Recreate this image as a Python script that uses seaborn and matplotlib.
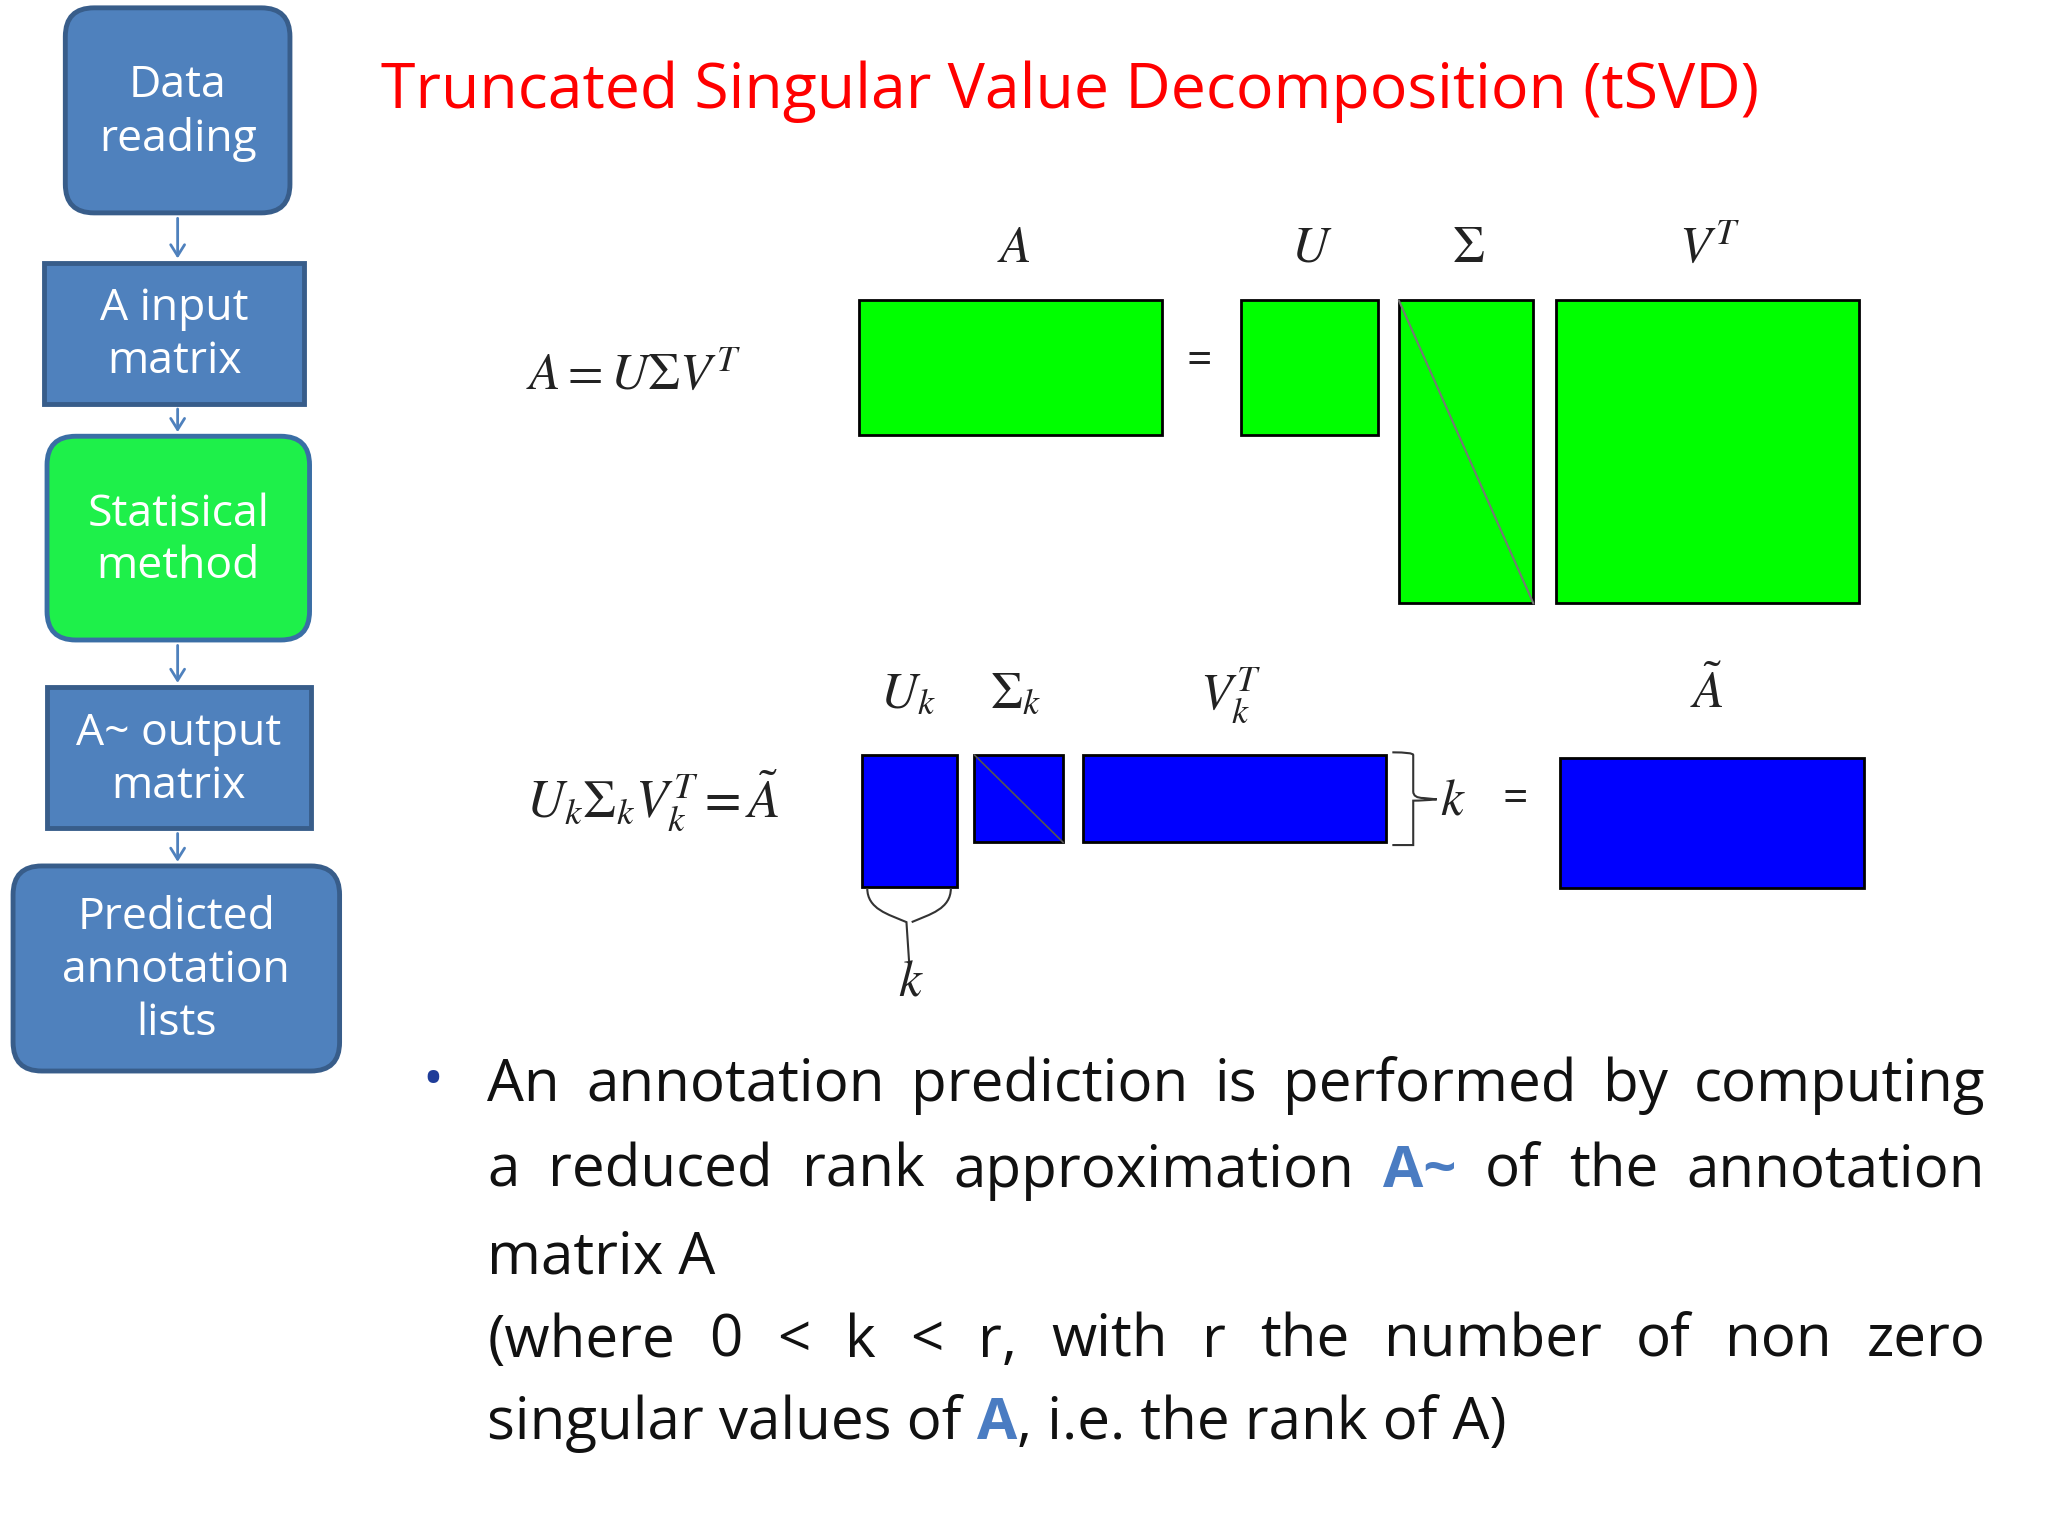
import matplotlib
matplotlib.use("Agg")
import matplotlib.pyplot as plt
import seaborn as sns
from matplotlib.patches import FancyBboxPatch, Rectangle, FancyArrowPatch
from matplotlib.path import Path
from matplotlib.patches import PathPatch

sns.set_theme(style="white")
plt.rcParams['font.family'] = ['Open Sans', 'DejaVu Sans']
plt.rcParams['mathtext.fontset'] = 'stix'

# ---- content ----
title = "Truncated Singular Value Decomposition (tSVD)"
flow_labels = ["Data\nreading", "A input\nmatrix", "Statisical\nmethod", "A~ output\nmatrix", "Predicted\nannotation\nlists"]
flow_rounded = [True, False, True, False, True]
flow_green = [False, False, True, False, False]
flow_boxes = [(50, 6, 172, 157), (34, 201, 199, 108), (36, 334, 201, 156), (36, 526, 202, 108), (10, 663, 250, 157)]
top_boxes = [(658, 230, 232, 103), (950, 230, 105, 103), (1071, 230, 103, 232), (1191, 230, 232, 232)]
top_labels = [r"$A$", r"$U$", r"$\Sigma$", r"$V^T$"]
bot_boxes = [(660, 578, 73, 101), (746, 578, 68, 67), (829, 578, 232, 67), (1194, 580, 233, 100)]
bot_labels = [r"$U_k$", r"$\Sigma_k$", r"$V_k^T$", r"$\tilde{A}$"]
bullet_lines = [
    [("An", None), ("annotation", None), ("prediction", None), ("is", None), ("performed", None), ("by", None), ("computing", None)],
    [("a", None), ("reduced", None), ("rank", None), ("approximation", None), ("A~", "blue"), ("of", None), ("the", None), ("annotation", None)],
    [("matrix A", None)],
    [("(where", None), ("0", None), ("<", None), ("k", None), ("<", None), ("r,", None), ("with", None), ("r", None), ("the", None), ("number", None), ("of", None), ("non", None), ("zero", None)],
    [("singular values of ", None), ("A", "blue"), (", i.e. the rank of A)", None)],
]
justify = [True, True, False, True, False]

W, H = 1568, 1176
fig = plt.figure(figsize=(20.48, 15.36), dpi=100)
ax = fig.add_axes([0, 0, 1, 1])
ax.set_xlim(0, W); ax.set_ylim(H, 0); ax.axis("off")

BLUE_FILL, BLUE_EDGE = "#4F81BD", "#385D8A"
GREEN_FILL = "#1EF04A"

for lab, (x, y, w, h), r, g in zip(flow_labels, flow_boxes, flow_rounded, flow_green):
    fc = GREEN_FILL if g else BLUE_FILL
    ec = "#3A6EA5" if g else BLUE_EDGE
    style = "round,pad=0,rounding_size=22" if r else "square,pad=0"
    ax.add_patch(FancyBboxPatch((x, y), w, h, boxstyle=style, fc=fc, ec=ec, lw=3.5))
    ax.text(x + w / 2, y + h / 2 + 2, lab, ha="center", va="center", color="white",
            fontsize=32, linespacing=1.25)
for i in range(len(flow_boxes) - 1):
    y0 = flow_boxes[i][1] + flow_boxes[i][3] + 2
    y1 = flow_boxes[i + 1][1] - 1
    ax.add_patch(FancyArrowPatch((136, y0), (136, y1), arrowstyle="->,head_length=8,head_width=5",
                                 color=BLUE_FILL, lw=2))

ax.text(292, 70, title, color="#FF0000", fontsize=45, ha="left", va="center")

MS = 37
for (x, y, w, h), lab in zip(top_boxes, top_labels):
    ax.add_patch(Rectangle((x, y), w, h, fc="#00FF00", ec="black", lw=2))
    ax.text(x + w / 2 + 2, 190, lab, ha="center", va="center", fontsize=MS, color="#222")
ax.plot([1071, 1174], [230, 462], color="#777777", lw=1.5)
ax.text(918, 278, "=", ha="center", va="center", fontsize=32, color="#222")
ax.text(485, 287, r"$A=U\Sigma V^T$", ha="center", va="center", fontsize=MS, color="#222")

for (x, y, w, h), lab in zip(bot_boxes, bot_labels):
    ax.add_patch(Rectangle((x, y), w, h, fc="#0000FF", ec="black", lw=2))
lab_x = [695, 778, 942, 1307]
for lx, lab in zip(lab_x, bot_labels):
    ax.text(lx, 532, lab, ha="center", va="center", fontsize=MS, color="#222")
ax.plot([746, 814], [578, 645], color="#555555", lw=1.2)
ax.text(500, 613, r"$U_k\Sigma_k V_k^T=\tilde{A}$", ha="center", va="center", fontsize=38, color="#222")
ax.text(1112, 613, r"$k$", ha="center", va="center", fontsize=MS, color="#222")
ax.text(1160, 613, "=", ha="center", va="center", fontsize=32, color="#222")
ax.text(697, 752, r"$k$", ha="center", va="center", fontsize=MS, color="#222")
# braces
verts = [(1066, 576), (1082, 576), (1082, 578), (1082, 606), (1082, 611), (1090, 611), (1100, 612),
         (1090, 613), (1082, 613), (1082, 618), (1082, 645), (1082, 647), (1066, 647)]
codes = [Path.MOVETO, Path.CURVE3, Path.CURVE3, Path.LINETO, Path.CURVE3, Path.CURVE3, Path.LINETO,
         Path.CURVE3, Path.CURVE3, Path.LINETO, Path.CURVE3, Path.CURVE3, Path.LINETO]
ax.add_patch(PathPatch(Path(verts, codes), fc="none", ec="#333", lw=1.5))
ax.add_patch(PathPatch(Path([(664, 680), (664, 696), (680, 700), (694, 706), (696, 736)],
                            [Path.MOVETO, Path.CURVE4, Path.CURVE4, Path.CURVE4, Path.LINETO]),
                       fc="none", ec="#333", lw=1.5))
ax.add_patch(PathPatch(Path([(728, 680), (728, 696), (712, 700), (698, 706)],
                            [Path.MOVETO, Path.CURVE4, Path.CURVE4, Path.CURVE4]), fc="none", ec="#333", lw=1.5))

# bullet text
ax.text(331, 829, "•", ha="center", va="center", fontsize=40, color="#1F3D99")
fig.canvas.draw()
renderer = fig.canvas.get_renderer()
scale = W / 2048.0
FS = 42
x0, x1 = 373, 1520
ys = [831, 897, 963, 1027, 1090]
for words, just, yy in zip(bullet_lines, justify, ys):
    arts = []
    for w, c in words:
        kw = dict(fontsize=FS, va="center", ha="left")
        if c == "blue":
            kw.update(color="#4A7CC2", fontweight="bold")
        else:
            kw.update(color="#111111")
        arts.append(ax.text(0, yy, w, **kw))
    widths = [a.get_window_extent(renderer).width * scale for a in arts]
    gap = (x1 - x0 - sum(widths)) / (len(arts) - 1) if just else 0
    x = x0
    for a, wd in zip(arts, widths):
        a.set_x(x)
        x += wd + gap

fig.savefig("out.png", dpi=100, facecolor="white")
